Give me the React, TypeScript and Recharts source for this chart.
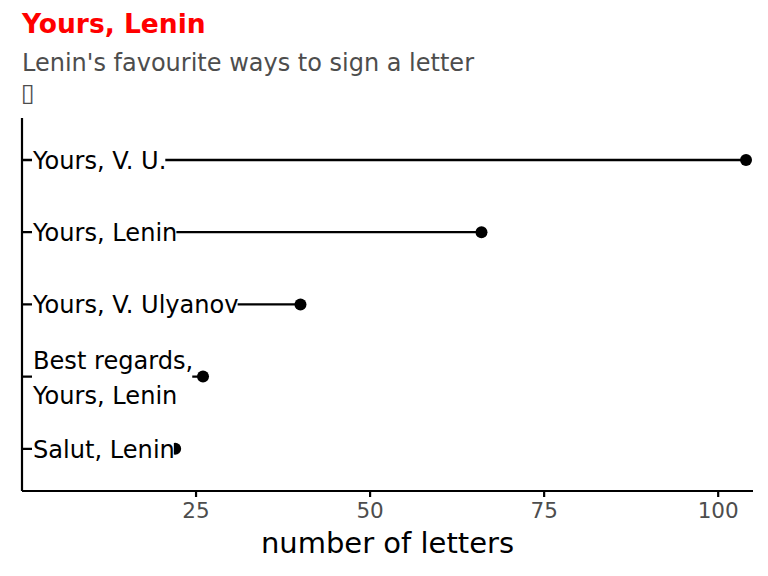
import React from "react"
import { Bar, ComposedChart, XAxis, YAxis } from "recharts"

const categories = ["Yours, V. U.", "Yours, Lenin", "Yours, V. Ulyanov", "Best regards,\nYours, Lenin", "Salut, Lenin"]
const letterCounts = [104, 66, 40, 26, 22]
const xTicks = [25, 50, 75, 100]

const data = categories.map((name, i) => ({ name, value: letterCounts[i] }))

const FONT = '"DejaVu Sans", sans-serif'
const LABEL_SIZE = 24.1
const LINE_GAP = 34.7

let ctx: CanvasRenderingContext2D | null = null
const measure = (text: string, size: number) => {
  if (!ctx) ctx = document.createElement("canvas").getContext("2d")
  if (!ctx) return text.length * size * 0.6
  ctx.font = `${size}px "DejaVu Sans"`
  return ctx.measureText(text).width
}

// segment from 0, point at the value, then a white-backed label on top
const Lollipop = (props: any) => {
  const { x, y, width, height, payload } = props
  const cy = y + height / 2
  const lines: string[] = String(payload.name).split("\n")
  const textX = 33
  const textW = Math.max(...lines.map((l) => measure(l, LABEL_SIZE)))
  const cap = LABEL_SIZE * 0.729
  const firstBase = cy + cap / 2 - ((lines.length - 1) * LINE_GAP) / 2 + (lines.length > 1 ? 1 : 0)
  const boxH = LABEL_SIZE * 1.3 + (lines.length - 1) * LINE_GAP
  return (
    <g>
      <line x1={x} x2={x + width} y1={cy} y2={cy} stroke="#000" strokeWidth={2.3} />
      <circle cx={x + width} cy={cy} r={6} fill="#000" />
      <rect x={textX - 1} y={cy - boxH / 2} width={textW} height={boxH} fill="#fff" />
      <text fontFamily={FONT} fontSize={LABEL_SIZE} fill="#000">
        {lines.map((l, i) => (
          <tspan key={i} x={textX} y={firstBase + i * LINE_GAP}>
            {l}
          </tspan>
        ))}
      </text>
    </g>
  )
}

export default function App() {
  return (
    <div style={{ position: "absolute", left: 0, top: 0, width: 768, height: 576, background: "#fff" }}>
      <svg width={768} height={120} style={{ position: "absolute", left: 0, top: 0 }}>
        <text x={22} y={33} fontFamily={FONT} fontSize={26.5} fontWeight="bold" fill="#ff0000">
          Yours, Lenin
        </text>
        <text x={22} y={71} fontFamily={FONT} fontSize={24} fill="#4d4d4d">
          Lenin's favourite ways to sign a letter
        </text>
        <text x={21} y={101} fontFamily={FONT} fontSize={25} fill="#4d4d4d">
          {"\u25AF"}
        </text>
      </svg>
      <div style={{ position: "absolute", left: 0, top: 0 }}>
        <ComposedChart
          layout="vertical"
          width={768}
          height={576}
          data={data}
          margin={{ top: 118, right: 15, bottom: 0, left: 0 }}
        >
          <XAxis
            type="number"
            domain={[0, 105]}
            ticks={xTicks}
            height={85}
            axisLine={{ stroke: "#000", strokeWidth: 2.2 }}
            tickLine={{ stroke: "#000", strokeWidth: 2.2 }}
            tickSize={6}
            tickMargin={6}
            tick={{ fontSize: 21.5, fill: "#4d4d4d", fontFamily: FONT }}
            label={{
              value: "number of letters",
              position: "insideBottom",
              offset: 23,
              fontSize: 29,
              fill: "#000",
              fontFamily: FONT,
            }}
          />
          <YAxis
            type="category"
            dataKey="name"
            width={22}
            tick={false}
            tickLine={false}
            axisLine={{ stroke: "#000", strokeWidth: 2.2 }}
            padding={{ top: 6, bottom: 6 }}
          />
          <Bar dataKey="value" barSize={10} isAnimationActive={false} shape={Lollipop} />
        </ComposedChart>
      </div>
    </div>
  )
}
